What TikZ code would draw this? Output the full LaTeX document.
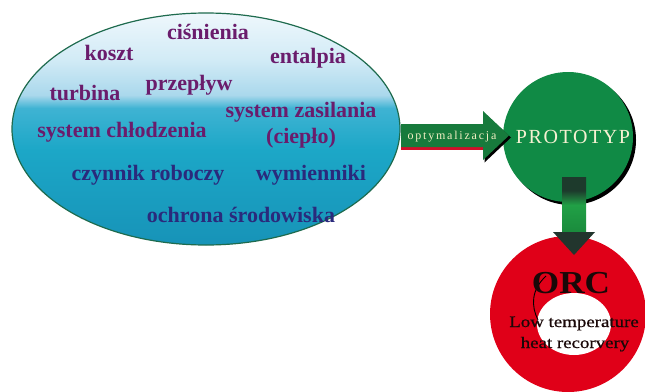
\documentclass[tikz,border=0pt]{standalone}
\usepackage{fontspec}
\setmainfont{Liberation Serif}
\newfontfamily\protofont[LetterSpace=8]{Liberation Serif}
\newfontfamily\optfont[LetterSpace=15]{Liberation Serif}
\newfontfamily\orcfont[FakeStretch=1.18,FakeBold=0.6]{Liberation Serif}
\newfontfamily\orcbigfont[FakeStretch=1.1]{Liberation Serif}
\usetikzlibrary{shapes.geometric,calc}

\definecolor{ellT}{HTML}{EEF7FC}
\definecolor{ellA1}{HTML}{D2EBF6}
\definecolor{ellA2}{HTML}{AAD8EC}
\definecolor{ellB}{HTML}{3FB3D3}
\definecolor{ellC}{HTML}{1CA7C7}
\definecolor{ellD}{HTML}{1793B8}
\definecolor{ellEdge}{HTML}{1E6B4E}
\definecolor{wordPurple}{HTML}{6A1C6C}
\definecolor{wordNavy}{HTML}{2A2A7C}
\definecolor{protoGreen}{HTML}{108A45}
\definecolor{protoText}{HTML}{F6F1D2}
\definecolor{orcRed}{HTML}{E00018}
\definecolor{orcText}{HTML}{1A0808}
\definecolor{arrowGreen}{HTML}{177A3C}
\definecolor{arrowShadow}{HTML}{D0102A}
\definecolor{optText}{HTML}{F2F0C4}
\definecolor{shaftDark}{HTML}{1D3A2C}
\definecolor{shaftGreen}{HTML}{21A046}
\definecolor{shaftLow}{HTML}{1A8A3C}
\definecolor{headDark}{HTML}{22352D}

\pgfdeclareverticalshading{ellsh}{100bp}{color(0bp)=(ellD); color(25bp)=(ellD); color(45.5bp)=(ellC); color(54.5bp)=(ellB); color(57.3bp)=(ellA2); color(65bp)=(ellA1); color(75bp)=(ellT); color(100bp)=(ellT)}
\pgfdeclareverticalshading{shaftsh}{100bp}{color(0bp)=(shaftLow); color(25bp)=(shaftLow); color(50bp)=(shaftGreen); color(63bp)=(shaftDark); color(75bp)=(shaftDark); color(100bp)=(shaftDark)}

\tikzset{
  word/.style={anchor=base, inner sep=0pt, font=\bfseries\fontsize{22}{24}\selectfont},
  purpleword/.style={word, text=wordPurple},
  navyword/.style={word, text=wordNavy},
  orctext/.style={anchor=base, inner sep=0pt, text=orcText},
}

\begin{document}
\begin{tikzpicture}[x=1pt,y=-1pt]
\useasboundingbox (0,0) rectangle (645,391);
\fill[white] (0,0) rectangle (645,391);

% big ellipse
\node[ellipse, minimum width=388pt, minimum height=232pt, inner sep=0pt,
      shade, shading=ellsh, draw=ellEdge, line width=1.2pt] (goals) at (206,129) {};

\node[purpleword] (w1) at (208,39) {ciśnienia};
\node[purpleword] (w2) at (109,60) {koszt};
\node[purpleword] (w3) at (308,63) {entalpia};
\node[purpleword] (w4) at (189,90) {przepływ};
\node[purpleword] (w5) at (85,100) {turbina};
\node[purpleword] (w6) at (301,117) {system zasilania};
\node[purpleword] (w7) at (122,137) {system chłodzenia};
\node[purpleword] (w8) at (301,143) {(ciepło)};
\node[navyword] (w9) at (148,180) {czynnik roboczy};
\node[navyword] (w10) at (311,180) {wymienniki};
\node[navyword] (w11) at (241,222) {ochrona środowiska};

% red ORC circle
\node[circle, fill=orcRed, minimum size=156pt, inner sep=0pt] (orc) at (568,314) {};
\fill[white] (574,324) ellipse[x radius=37, y radius=31];
\draw[black, line width=0.9pt] (546,276) .. controls (531,290) and (531,306) .. (538,320);
\node[orctext, font=\orcbigfont\bfseries\fontsize{32}{36}\selectfont] (orcLabel) at (571,293) {ORC};
\node[orctext, font=\orcfont\fontsize{16}{18}\selectfont] (low) at (574,327) {Low temperature};
\node[orctext, font=\orcfont\fontsize{16}{18}\selectfont] (heat) at (575,348) {heat recorvery};

% green PROTOTYP circle
\fill[black] (571,140) circle[radius=65];
\node[circle, fill=protoGreen, minimum size=130pt, inner sep=0pt] (proto) at (568,137) {};
\node[anchor=base, inner sep=0pt, text=protoText, font=\protofont\fontsize{20}{24}\selectfont] (protoLabel) at (573,143) {PROTOTYP};

% horizontal arrow (optymalizacja)
\coordinate (hS) at (401,135.5);
\coordinate (hB) at (483,135.5);
\coordinate (hT) at (509,135.5);
\fill[black] ($(hB)+(1.5,-22)$) -- ($(hT)+(2,2)$) -- ($(hB)+(1.5,27)$) -- cycle;
\fill[arrowShadow] ($(hS)+(0,-9)$) rectangle ($(hB)+(2,14)$);
\fill[arrowGreen] ($(hS)+(0,-11.5)$) -- ($(hB)+(0,-11.5)$) -- ($(hB)+(0,-24.5)$) -- (hT)
   -- ($(hB)+(0,24.5)$) -- ($(hB)+(0,11.5)$) -- ($(hS)+(0,11.5)$) -- cycle;
\node[anchor=base, inner sep=0pt, text=optText, font=\optfont\fontsize{12}{14}\selectfont] (optLabel) at (452,139) {optymalizacja};

% vertical arrow
\coordinate (dTop) at (574,177);
\coordinate (dBase) at (574,233);
\coordinate (dTip) at (574,255);
\shade[shading=shaftsh] ($(dTop)+(-12,0)$) rectangle ($(dBase)+(12,0)$);
\fill[headDark] ($(dBase)+(-21,-1)$) -- ($(dBase)+(21,-1)$) -- (dTip) -- cycle;
\end{tikzpicture}
\end{document}
